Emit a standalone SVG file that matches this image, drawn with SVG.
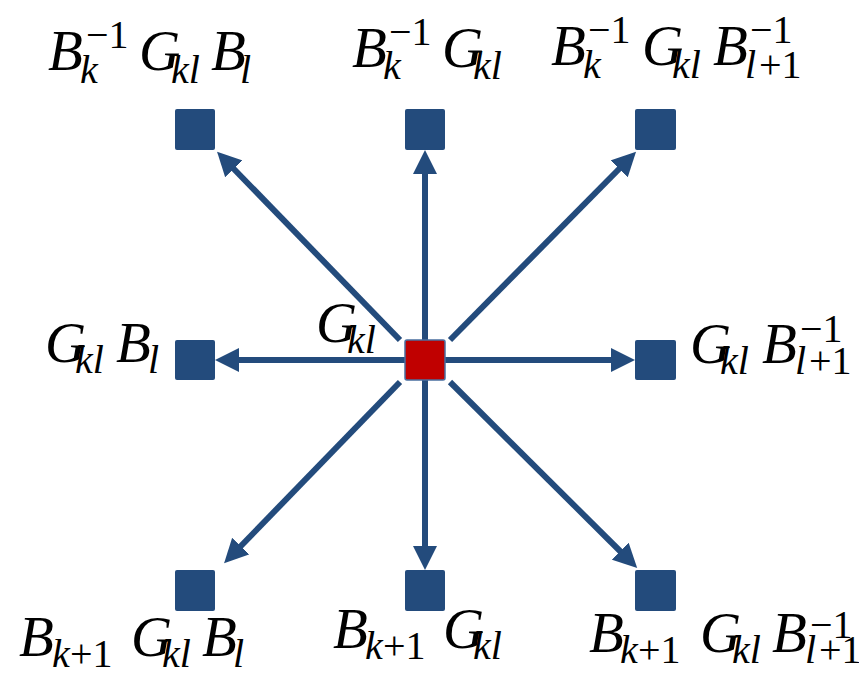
<svg xmlns="http://www.w3.org/2000/svg" width="859" height="675" viewBox="0 0 859 675">
<style>
.sq{fill:#234B7C}
.c{fill:#C00000;stroke:#4A6FA0;stroke-width:1.5}
.ln{stroke:#234B7C;stroke-width:6;fill:none;marker-end:url(#ah)}
text{font-family:"Liberation Serif","DejaVu Serif",serif;fill:#000}
.m{font-size:57px;font-style:italic}
.s{font-size:40px;font-style:italic}
.n{font-size:40px;font-style:normal}
</style>
<defs>
<marker id="ah" markerUnits="userSpaceOnUse" markerWidth="24" markerHeight="24" refX="4" refY="12" orient="auto">
<path d="M0,0 L24,12 L0,24 z" fill="#234B7C"/>
</marker>
</defs>
<rect width="859" height="675" fill="#fff"/>
<g id="connectors">
<line class="ln" x1="425" y1="360" x2="425" y2="170"/>
<line class="ln" x1="425" y1="360" x2="425" y2="550"/>
<line class="ln" x1="425" y1="360" x2="235" y2="360"/>
<line class="ln" x1="425" y1="360" x2="615" y2="360"/>
<line class="ln" x1="400" y1="340" x2="231" y2="166"/>
<line class="ln" x1="450" y1="340" x2="622" y2="166"/>
<line class="ln" x1="400" y1="382" x2="238" y2="549"/>
<line class="ln" x1="450" y1="382" x2="623" y2="554"/>
</g>
<g id="center">
<rect class="c" x="405" y="340" width="40" height="40" rx="2"/>
<text><tspan class="m" x="316" y="342">G</tspan><tspan class="s" x="347" y="353">kl</tspan></text>
</g>
<g id="n-tl">
<rect class="sq" x="175" y="109" width="40" height="41" rx="2"/>
<text><tspan class="m" x="48" y="70">B</tspan><tspan class="s" x="80" y="83">k</tspan><tspan class="n" x="86" y="48">−1</tspan><tspan class="m" x="139" y="70">G</tspan><tspan class="s" x="171" y="83">kl</tspan><tspan class="m" x="211" y="70">B</tspan><tspan class="s" x="240" y="83">l</tspan></text>
</g>
<g id="n-t">
<rect class="sq" x="405" y="109" width="40" height="41" rx="2"/>
<text><tspan class="m" x="352" y="67">B</tspan><tspan class="s" x="383" y="79">k</tspan><tspan class="n" x="389" y="45">−1</tspan><tspan class="m" x="442" y="67">G</tspan><tspan class="s" x="473" y="79">kl</tspan></text>
</g>
<g id="n-tr">
<rect class="sq" x="635" y="109" width="41" height="41" rx="2"/>
<text><tspan class="m" x="551" y="65">B</tspan><tspan class="s" x="583" y="78">k</tspan><tspan class="n" x="588" y="43">−1</tspan><tspan class="m" x="642" y="65">G</tspan><tspan class="s" x="672" y="78">kl</tspan><tspan class="m" x="713" y="65">B</tspan><tspan class="n" x="750" y="43">−1</tspan><tspan class="s" x="745" y="78">l</tspan><tspan class="n" x="759" y="78">+1</tspan></text>
</g>
<g id="n-l">
<rect class="sq" x="175" y="340" width="40" height="40" rx="2"/>
<text><tspan class="m" x="45" y="362">G</tspan><tspan class="s" x="75" y="373">kl</tspan><tspan class="m" x="116" y="362">B</tspan><tspan class="s" x="148" y="373">l</tspan></text>
</g>
<g id="n-r">
<rect class="sq" x="635" y="340" width="41" height="40" rx="2"/>
<text><tspan class="m" x="690" y="363">G</tspan><tspan class="s" x="720" y="374">kl</tspan><tspan class="m" x="762" y="363">B</tspan><tspan class="n" x="800" y="342">−1</tspan><tspan class="s" x="795" y="374">l</tspan><tspan class="n" x="809" y="374">+1</tspan></text>
</g>
<g id="n-bl">
<rect class="sq" x="175" y="570" width="40" height="41" rx="2"/>
<text><tspan class="m" x="19" y="656">B</tspan><tspan class="s" x="52" y="667">k</tspan><tspan class="n" x="70" y="667">+1</tspan><tspan class="m" x="131" y="656">G</tspan><tspan class="s" x="162" y="667">kl</tspan><tspan class="m" x="202" y="656">B</tspan><tspan class="s" x="233" y="667">l</tspan></text>
</g>
<g id="n-b">
<rect class="sq" x="405" y="570" width="40" height="41" rx="2"/>
<text><tspan class="m" x="333" y="648">B</tspan><tspan class="s" x="365" y="659">k</tspan><tspan class="n" x="383" y="659">+1</tspan><tspan class="m" x="443" y="648">G</tspan><tspan class="s" x="473" y="659">kl</tspan></text>
</g>
<g id="n-br">
<rect class="sq" x="635" y="570" width="41" height="41" rx="2"/>
<text><tspan class="m" x="589" y="652">B</tspan><tspan class="s" x="620" y="663">k</tspan><tspan class="n" x="638" y="663">+1</tspan><tspan class="m" x="700" y="652">G</tspan><tspan class="s" x="732" y="663">kl</tspan><tspan class="m" x="772" y="652">B</tspan><tspan class="n" x="810" y="638">−1</tspan><tspan class="s" x="805" y="663">l</tspan><tspan class="n" x="819" y="663">+1</tspan></text>
</g>
</svg>
